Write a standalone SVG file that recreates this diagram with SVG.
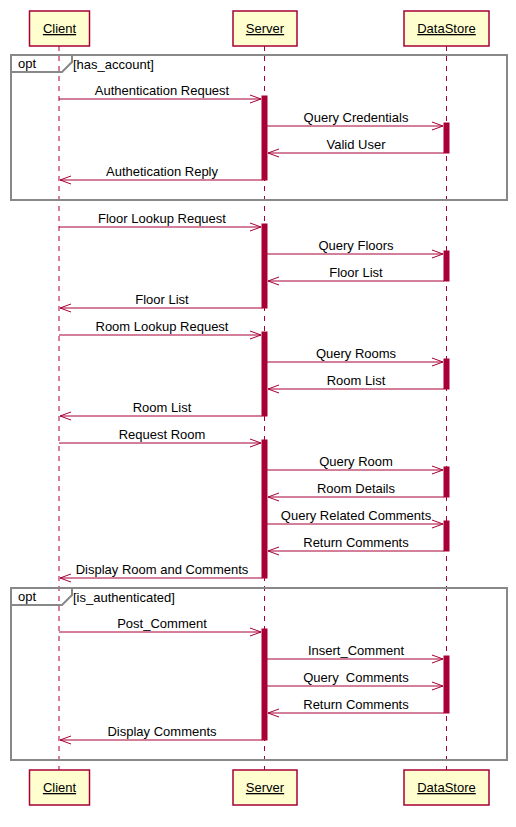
<svg xmlns="http://www.w3.org/2000/svg" width="516" height="827" viewBox="0 0 516 827">
<defs>
<style>
text{font-family:"Liberation Sans",Arial,sans-serif;font-size:13px;fill:#000}
.msg{text-anchor:middle}
.life{stroke:#A80036;stroke-width:1;stroke-dasharray:5,5;fill:none}
.part rect{fill:#FEFECE;stroke:#A80036;stroke-width:1.5}
.part text{text-anchor:middle;text-decoration:underline}
.act{fill:#A80036;stroke:#A80036;stroke-width:1}
.arr{stroke:#A80036;stroke-width:1;fill:none}
.frame{fill:none;stroke:#888888;stroke-width:2}
</style>
<marker id="ah" viewBox="0 0 12 10" refX="11" refY="5" markerWidth="12" markerHeight="10" markerUnits="userSpaceOnUse" orient="auto">
<path d="M0,1 L11,5 L0,9" fill="none" stroke="#A80036" stroke-width="1"/>
</marker>
</defs>
<rect width="516" height="827" fill="#fff"/>
<g id="lifelines">
<line class="life" x1="59" y1="46" x2="59" y2="770"/>
<line class="life" x1="264.5" y1="46" x2="264.5" y2="770"/>
<line class="life" x1="446.5" y1="46" x2="446.5" y2="770"/>
</g>
<g id="frames">
<g id="opt1">
<rect class="frame" x="11" y="55" width="496" height="145"/>
<path class="frame" d="M11,72 L62,72 L72,62 L72,55"/>
<text x="18" y="68">opt</text>
<text x="73" y="69">[has_account]</text>
</g>
<g id="opt2">
<rect class="frame" x="11" y="588" width="496" height="172"/>
<path class="frame" d="M11,605 L62,605 L72,595 L72,588"/>
<text x="18" y="601">opt</text>
<text x="73" y="602">[is_authenticated]</text>
</g>
</g>
<g id="activations">
<rect class="act" x="262" y="96" width="5" height="84"/>
<rect class="act" x="444" y="123" width="5" height="30"/>
<rect class="act" x="262" y="224" width="5" height="84"/>
<rect class="act" x="444" y="251" width="5" height="30"/>
<rect class="act" x="262" y="332" width="5" height="84"/>
<rect class="act" x="444" y="359" width="5" height="30"/>
<rect class="act" x="262" y="440" width="5" height="138"/>
<rect class="act" x="444" y="467" width="5" height="30"/>
<rect class="act" x="444" y="521" width="5" height="30"/>
<rect class="act" x="262" y="629" width="5" height="111"/>
<rect class="act" x="444" y="656" width="5" height="57"/>
</g>
<g id="connectors">
<line class="arr" x1="59" y1="99" x2="261" y2="99" marker-end="url(#ah)"/>
<line class="arr" x1="267" y1="126" x2="443" y2="126" marker-end="url(#ah)"/>
<line class="arr" x1="444" y1="153" x2="268" y2="153" marker-end="url(#ah)"/>
<line class="arr" x1="262" y1="180" x2="60" y2="180" marker-end="url(#ah)"/>
<line class="arr" x1="59" y1="227" x2="261" y2="227" marker-end="url(#ah)"/>
<line class="arr" x1="267" y1="254" x2="443" y2="254" marker-end="url(#ah)"/>
<line class="arr" x1="444" y1="281" x2="268" y2="281" marker-end="url(#ah)"/>
<line class="arr" x1="262" y1="308" x2="60" y2="308" marker-end="url(#ah)"/>
<line class="arr" x1="59" y1="335" x2="261" y2="335" marker-end="url(#ah)"/>
<line class="arr" x1="267" y1="362" x2="443" y2="362" marker-end="url(#ah)"/>
<line class="arr" x1="444" y1="389" x2="268" y2="389" marker-end="url(#ah)"/>
<line class="arr" x1="262" y1="416" x2="60" y2="416" marker-end="url(#ah)"/>
<line class="arr" x1="59" y1="443" x2="261" y2="443" marker-end="url(#ah)"/>
<line class="arr" x1="267" y1="470" x2="443" y2="470" marker-end="url(#ah)"/>
<line class="arr" x1="444" y1="497" x2="268" y2="497" marker-end="url(#ah)"/>
<line class="arr" x1="267" y1="524" x2="443" y2="524" marker-end="url(#ah)"/>
<line class="arr" x1="444" y1="551" x2="268" y2="551" marker-end="url(#ah)"/>
<line class="arr" x1="262" y1="578" x2="60" y2="578" marker-end="url(#ah)"/>
<line class="arr" x1="59" y1="632" x2="261" y2="632" marker-end="url(#ah)"/>
<line class="arr" x1="267" y1="659" x2="443" y2="659" marker-end="url(#ah)"/>
<line class="arr" x1="267" y1="686" x2="443" y2="686" marker-end="url(#ah)"/>
<line class="arr" x1="444" y1="713" x2="268" y2="713" marker-end="url(#ah)"/>
<line class="arr" x1="262" y1="740" x2="60" y2="740" marker-end="url(#ah)"/>
</g>
<g id="labels">
<text class="msg" x="162" y="95">Authentication Request</text>
<text class="msg" x="356" y="122">Query Credentials</text>
<text class="msg" x="356" y="149">Valid User</text>
<text class="msg" x="162" y="176">Authetication Reply</text>
<text class="msg" x="162" y="223">Floor Lookup Request</text>
<text class="msg" x="356" y="250">Query Floors</text>
<text class="msg" x="356" y="277">Floor List</text>
<text class="msg" x="162" y="304">Floor List</text>
<text class="msg" x="162" y="331">Room Lookup Request</text>
<text class="msg" x="356" y="358">Query Rooms</text>
<text class="msg" x="356" y="385">Room List</text>
<text class="msg" x="162" y="412">Room List</text>
<text class="msg" x="162" y="439">Request Room</text>
<text class="msg" x="356" y="466">Query Room</text>
<text class="msg" x="356" y="493">Room Details</text>
<text class="msg" x="356" y="520">Query Related Comments</text>
<text class="msg" x="356" y="547">Return Comments</text>
<text class="msg" x="162" y="574">Display Room and Comments</text>
<text class="msg" x="162" y="628">Post_Comment</text>
<text class="msg" x="356" y="655">Insert_Comment</text>
<text class="msg" x="356" y="682" xml:space="preserve">Query  Comments</text>
<text class="msg" x="356" y="709">Return Comments</text>
<text class="msg" x="162" y="736">Display Comments</text>
</g>
<g id="Client_top" class="part"><rect x="29.5" y="11" width="60" height="35"/><text x="59.5" y="33">Client</text></g>
<g id="Server_top" class="part"><rect x="233" y="11" width="64" height="35"/><text x="265" y="33">Server</text></g>
<g id="DataStore_top" class="part"><rect x="404" y="11" width="85" height="35"/><text x="446.5" y="33">DataStore</text></g>
<g id="Client_bottom" class="part"><rect x="29.5" y="770" width="60" height="35"/><text x="59.5" y="792">Client</text></g>
<g id="Server_bottom" class="part"><rect x="233" y="770" width="64" height="35"/><text x="265" y="792">Server</text></g>
<g id="DataStore_bottom" class="part"><rect x="404" y="770" width="85" height="35"/><text x="446.5" y="792">DataStore</text></g>
</svg>
